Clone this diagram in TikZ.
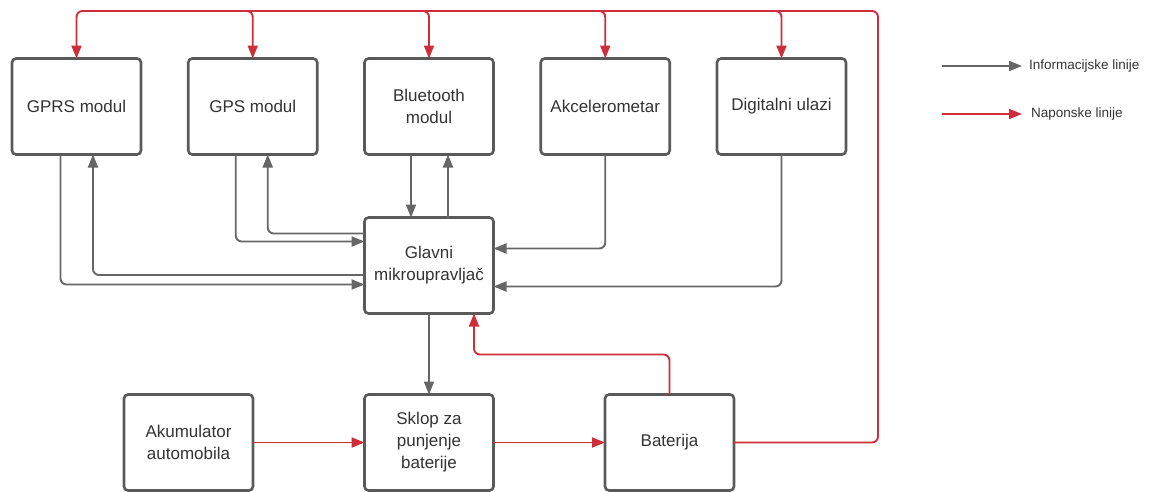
\documentclass[tikz,border=0pt]{standalone}
\usepackage{fontspec}
\setmainfont{Liberation Sans}
\usetikzlibrary{positioning,calc,arrows.meta}
\definecolor{boxgray}{HTML}{5A5A5A}
\definecolor{linegray}{HTML}{666666}
\definecolor{pwrred}{HTML}{CF2D3A}
\definecolor{txtgray}{HTML}{333333}

\begin{document}
\begin{tikzpicture}[x=1pt,y=-1pt,
				block/.style={minimum width=129pt,minimum height=96pt,outer sep=0pt,draw=boxgray,line width=2.6pt,rounded corners=4pt,
					align=center,text=txtgray,font=\fontsize{17}{22}\selectfont,node distance=47.25pt},
				infoline/.style={draw=linegray,line width=1.9pt,rounded corners=6pt,-{Triangle[length=13pt,width=10pt]}},
				pwrline/.style={draw=pwrred,line width=1.9pt,rounded corners=6pt,-{Triangle[length=13pt,width=10pt]}},
				legtext/.style={anchor=west,text=txtgray,font=\fontsize{13.5}{16}\selectfont,inner sep=0pt}]
				\useasboundingbox (0,0) rectangle (1149,491);
				\node[block] (GPRS)  at (76.5,106.5)         {GPRS modul};
				\node[block] (GPS)   [right=of GPRS]         {GPS modul};
				\node[block] (BT)    [right=of GPS]          {Bluetooth\\modul};
				\node[block] (ACC)   [right=of BT]           {Akcelerometar};
				\node[block] (DIG)   [right=of ACC]          {Digitalni ulazi};
				\node[block] (MCU)   [below=63pt of BT]      {Glavni\\mikroupravljač};
				\node[block] (CHG)   [below=81pt of MCU]     {Sklop za\\punjenje\\baterije};
				\node[block] (CAR)   [left=111.5pt of CHG]   {Akumulator\\automobila};
				\node[block] (BAT)   [right=111.5pt of CHG]  {Baterija};
				\coordinate (PWR) at (878,11);
				
				\draw[pwrline] (BAT.east) -| (PWR) -| (GPRS.north);
				\foreach \m in {GPS,BT,ACC,DIG}
					\draw[pwrline] ([xshift=-6pt]PWR -| \m.north) -| (\m.north);
				\draw[pwrline] (CAR.east) -- (CHG.west);
				\draw[pwrline] (CHG.east) -- (BAT.west);
				\draw[pwrline] (BAT.north) |- ([xshift=45pt,yshift=-41pt]MCU.south) -- ([xshift=45pt]MCU.south);
				
				\draw[infoline] ([xshift=-16pt]GPRS.south) |- ([yshift=-19pt]MCU.west);
				\draw[infoline] ([yshift=-9.5pt]MCU.west) -| ([xshift=16.5pt]GPRS.south);
				\draw[infoline] ([xshift=-17pt]GPS.south) |- ([yshift=24pt]MCU.west);
				\draw[infoline] ([yshift=32pt]MCU.west) -| ([xshift=15pt]GPS.south);
				\draw[infoline] ([xshift=-18pt]BT.south) -- ([xshift=-18pt]MCU.north);
				\draw[infoline] ([xshift=19pt]MCU.north) -- ([xshift=19pt]BT.south);
				\draw[infoline] (ACC.south) |- ([yshift=17pt]MCU.east);
				\draw[infoline] (DIG.south) |- ([yshift=-21pt]MCU.east);
				\draw[infoline] (MCU.south) -- (CHG.north);
				
				\node[legtext] (INFO) at (1029,66)  {Informacijske linije};
				\node[legtext] (NAP)  at (1031,114) {Naponske linije};
				\coordinate (INFOS) at (942,66);
				\coordinate (NAPS)  at (942,114);
				\draw[infoline] (INFOS) -- ([xshift=-7pt]INFO.west);
				\draw[pwrline]  (NAPS) -- ([xshift=-9pt]NAP.west);
			\end{tikzpicture}
\end{document}
